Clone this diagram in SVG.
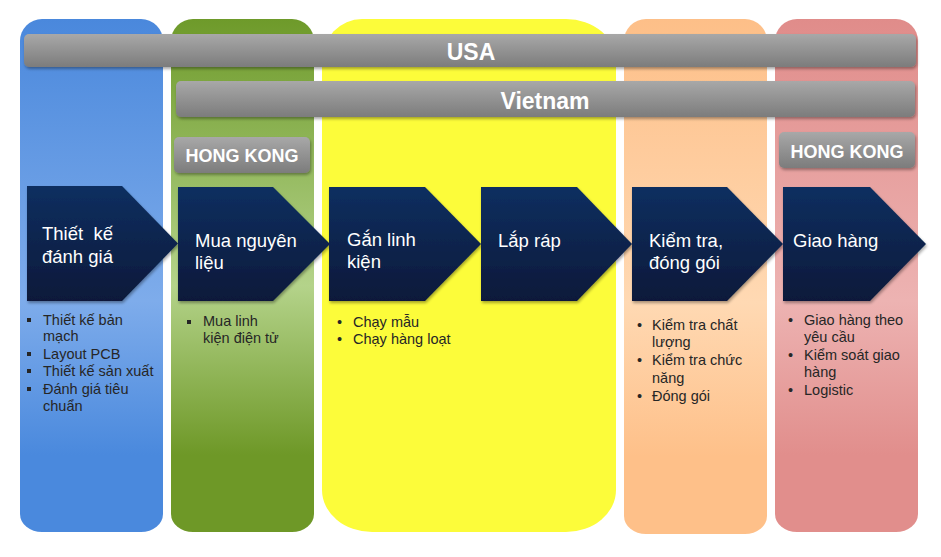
<svg xmlns="http://www.w3.org/2000/svg" width="941" height="557" viewBox="0 0 941 557">
<defs>
<linearGradient id="gBlue" x1="0" y1="0" x2="0" y2="1">
<stop offset="0" stop-color="#4a88dc"/><stop offset="0.55" stop-color="#7eaceb"/><stop offset="0.85" stop-color="#4a89dd"/><stop offset="1" stop-color="#4a89dd"/>
</linearGradient>
<linearGradient id="gGreen" x1="0" y1="0" x2="0" y2="1">
<stop offset="0" stop-color="#6e9a2a"/><stop offset="0.52" stop-color="#b4d38a"/><stop offset="0.85" stop-color="#6e9827"/><stop offset="1" stop-color="#6e9827"/>
</linearGradient>
<linearGradient id="gOrange" x1="0" y1="0" x2="0" y2="1">
<stop offset="0" stop-color="#fdbf88"/><stop offset="0.55" stop-color="#ffd9b3"/><stop offset="0.85" stop-color="#fec089"/><stop offset="1" stop-color="#fec089"/>
</linearGradient>
<linearGradient id="gPink" x1="0" y1="0" x2="0" y2="1">
<stop offset="0" stop-color="#e08c8a"/><stop offset="0.55" stop-color="#edb3b2"/><stop offset="0.85" stop-color="#e18e8c"/><stop offset="1" stop-color="#e18e8c"/>
</linearGradient>
<linearGradient id="gGray" x1="0" y1="0" x2="0" y2="1">
<stop offset="0" stop-color="#a8a8a8"/><stop offset="1" stop-color="#7c7c7c"/>
</linearGradient>
<linearGradient id="gNavy" x1="0" y1="0" x2="0" y2="1">
<stop offset="0" stop-color="#0d2f60"/><stop offset="1" stop-color="#07193a"/>
</linearGradient>
<filter id="sh" x="-10%" y="-10%" width="125%" height="130%">
<feGaussianBlur in="SourceAlpha" stdDeviation="1.5"/><feOffset dx="1" dy="2" result="b"/>
<feComponentTransfer><feFuncA type="linear" slope="0.35"/></feComponentTransfer>
<feMerge><feMergeNode/><feMergeNode in="SourceGraphic"/></feMerge>
</filter>
</defs>
<style>
.bar{fill:url(#gGray);filter:url(#sh)}
.barT{font-family:"Liberation Sans",Arial,sans-serif;font-weight:bold;fill:#fff;text-anchor:middle}
.chev{fill:url(#gNavy);filter:url(#sh)}
.chT{font-family:"Liberation Sans",Arial,sans-serif;font-size:18.5px;fill:#fff;white-space:pre}
.bl{font-family:"Liberation Sans",Arial,sans-serif;font-size:14.5px;fill:#262626}
.sq{fill:#262626}
</style>
<g id="columns">
<g id="col-blue"><path d="M42,19 H141 A22,22 0 0 1 163,41 V514 A22,18 0 0 1 141,532 H42 A22,18 0 0 1 20,514 V41 A22,22 0 0 1 42,19 Z" fill="url(#gBlue)"/></g>
<g id="col-green"><path d="M193,19 H292 A22,22 0 0 1 314,41 V514 A22,18 0 0 1 292,532 H193 A22,18 0 0 1 171,514 V41 A22,22 0 0 1 193,19 Z" fill="url(#gGreen)"/></g>
<g id="col-yellow"><path d="M362,19 H566 A50,42 0 0 1 616,61 V490 A50,42 0 0 1 566,532 H372 A50,42 0 0 1 322,490 V61 A40,42 0 0 1 362,19 Z" fill="#fcfc3a"/></g>
<g id="col-orange"><path d="M646,19 H745 A22,22 0 0 1 767,41 V516 A22,18 0 0 1 745,534 H646 A22,18 0 0 1 624,516 V41 A22,22 0 0 1 646,19 Z" fill="url(#gOrange)"/></g>
<g id="col-pink"><path d="M797,19 H896 A22,22 0 0 1 918,41 V514 A22,18 0 0 1 896,532 H797 A22,18 0 0 1 775,514 V41 A22,22 0 0 1 797,19 Z" fill="url(#gPink)"/></g>
</g>
<g id="usa"><rect class="bar" x="24" y="34" width="892" height="33" rx="5"/><text class="barT" x="471" y="60" font-size="23">USA</text></g>
<g id="vietnam"><rect class="bar" x="176" y="81" width="739" height="36" rx="5"/><text class="barT" x="545" y="109" font-size="23">Vietnam</text></g>
<g id="hk1"><rect class="bar" x="174" y="137" width="136" height="36" rx="5"/><text class="barT" x="242" y="162" font-size="18">HONG KONG</text></g>
<g id="hk2"><rect class="bar" x="779" y="132" width="136" height="36" rx="5"/><text class="barT" x="847" y="158" font-size="18">HONG KONG</text></g>
<g id="connectors"></g>
<g id="step1"><path class="chev" d="M27,186 H122 L178,243.5 L122,301 H27 Z"/>
<text class="chT" x="42" y="240" xml:space="preserve">Thiết  kế</text><text class="chT" x="42" y="263">đánh giá</text></g>
<g id="step2"><path class="chev" d="M178,187 H273 L330,244 L273,301 H178 Z"/>
<text class="chT" x="195" y="247">Mua nguyên</text><text class="chT" x="195" y="269">liệu</text></g>
<g id="step3"><path class="chev" d="M329,187 H425 L481,244 L425,301 H329 Z"/>
<text class="chT" x="347" y="246">Gắn linh</text><text class="chT" x="347" y="268">kiện</text></g>
<g id="step4"><path class="chev" d="M481,187 H577 L632,244 L577,301 H481 Z"/>
<text class="chT" x="498" y="247">Lắp ráp</text></g>
<g id="step5"><path class="chev" d="M632,187 H727 L783,244 L727,301 H632 Z"/>
<text class="chT" x="649" y="247">Kiểm tra,</text><text class="chT" x="649" y="269">đóng gói</text></g>
<g id="step6"><path class="chev" d="M783,187 H870 L926,244 L870,301 H783 Z"/>
<text class="chT" x="793" y="247">Giao hàng</text></g>
<g id="list1">
<rect class="sq" x="27" y="318" width="4" height="4"/><rect class="sq" x="27" y="352" width="4" height="4"/><rect class="sq" x="27" y="369" width="4" height="4"/><rect class="sq" x="27" y="387" width="4" height="4"/>
<text class="bl" x="43" y="325">Thiết kế bản</text><text class="bl" x="43" y="341">mạch</text><text class="bl" x="43" y="359">Layout PCB</text><text class="bl" x="43" y="376">Thiết kế sản xuất</text><text class="bl" x="43" y="394">Đánh giá tiêu</text><text class="bl" x="43" y="411">chuẩn</text>
</g>
<g id="list2">
<rect class="sq" x="187" y="320" width="4" height="4"/>
<text class="bl" x="203" y="326">Mua linh</text><text class="bl" x="203" y="343">kiện điện tử</text>
</g>
<g id="list3">
<text class="bl" x="337" y="327">•</text><text class="bl" x="337" y="344">•</text>
<text class="bl" x="353" y="327">Chạy mẫu</text><text class="bl" x="353" y="344">Chạy hàng loạt</text>
</g>
<g id="list4">
<text class="bl" x="637" y="330">•</text><text class="bl" x="637" y="365">•</text><text class="bl" x="637" y="401">•</text>
<text class="bl" x="652" y="330">Kiểm tra chất</text><text class="bl" x="652" y="347">lượng</text><text class="bl" x="652" y="365">Kiểm tra chức</text><text class="bl" x="652" y="383">năng</text><text class="bl" x="652" y="401">Đóng gói</text>
</g>
<g id="list5">
<text class="bl" x="788" y="325">•</text><text class="bl" x="788" y="360">•</text><text class="bl" x="788" y="395">•</text>
<text class="bl" x="804" y="325">Giao hàng theo</text><text class="bl" x="804" y="342">yêu cầu</text><text class="bl" x="804" y="360">Kiểm soát giao</text><text class="bl" x="804" y="377">hàng</text><text class="bl" x="804" y="395">Logistic</text>
</g>
</svg>
